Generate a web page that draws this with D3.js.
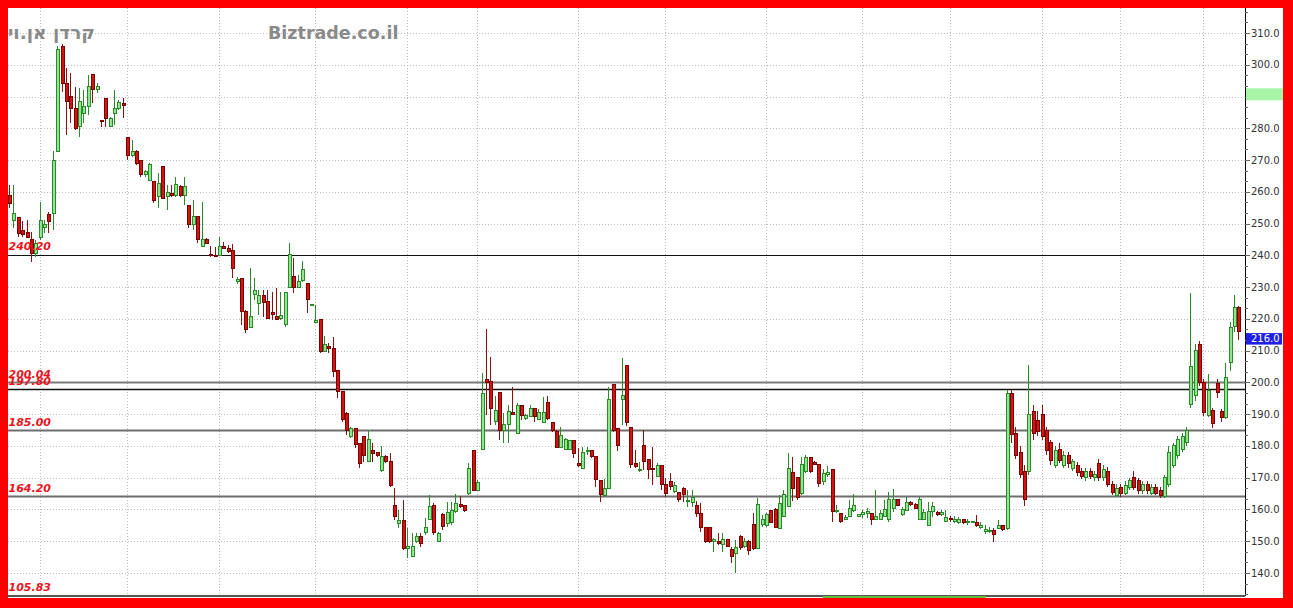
<!DOCTYPE html>
<html><head><meta charset="utf-8">
<script src="https://cdn.jsdelivr.net/npm/d3@7/dist/d3.min.js"></script>
<style>html,body{margin:0;padding:0;background:#ff0000;overflow:hidden}svg{display:block}</style>
</head><body>
<svg id="chart" width="1293" height="608"></svg>
<script>
// ---------------- data ----------------
const open = [
258.7,250.9,251.9,247.8,247.2,245.1,240.7,245.7,248.8,253.0,253.2,272.7,305.7,294.2,290.0,286.3,280.5,284.7,286.8,296.8,
292.3,282.3,289.4,280.5,284.7,286.3,287.9,277.1,271.3,272.7,270.0,265.3,263.7,263.2,258.5,267.9,258.5,259.5,259.0,261.6,
259.0,255.7,249.6,252.2,242.8,245.1,240.2,240.0,239.8,242.8,242.2,241.5,231.8,232.8,222.3,217.2,227.8,224.7,227.5,225.4,
222.0,220.9,220.2,218.1,229.9,233.3,229.9,232.0,231.0,224.2,219.0,219.9,209.7,211.3,210.7,203.7,197.1,190.3,182.9,185.5,
180.8,182.9,175.1,178.7,177.9,172.4,176.6,175.1,161.1,155.6,156.4,147.8,145.1,149.9,151.6,152.7,156.9,161.4,149.9,158.3,
155.5,156.0,159.3,161.7,161.1,164.9,178.7,166.1,178.9,201.0,200.3,187.6,196.8,184.8,186.6,190.4,184.0,192.6,188.5,189.4,
191.8,188.4,187.3,193.6,187.3,184.5,179.6,178.9,178.9,181.7,174.5,172.9,178.1,178.5,176.6,169.1,164.3,166.7,199.2,185.5,
194.7,205.3,185.9,174.5,172.2,180.0,175.8,172.9,170.3,174.0,168.0,168.8,165.6,165.3,166.6,162.4,162.1,161.1,158.8,154.4,
154.4,149.9,149.9,149.1,150.6,147.4,146.2,151.6,148.3,149.9,155.4,147.8,155.4,154.8,159.6,160.0,154.1,157.7,160.9,171.6,
170.1,164.9,171.9,176.4,174.9,174.3,168.7,170.9,172.6,159.3,158.6,156.7,157.7,159.8,157.9,158.3,158.6,158.8,156.9,156.7,
157.9,156.7,160.3,163.0,158.3,159.8,162.1,161.7,156.9,156.9,155.1,159.3,159.0,158.3,156.1,157.2,156.1,155.9,156.7,155.9,
156.0,155.8,154.4,153.0,153.0,153.5,154.1,155.1,154.1,196.5,184.0,178.0,172.0,172.0,191.0,188.0,190.0,185.0,181.0,174.0,
179.0,174.0,177.0,173.0,174.0,172.0,170.0,172.0,170.0,174.5,170.0,172.0,168.0,164.5,167.0,165.0,167.0,170.0,169.0,166.0,
168.0,165.0,167.0,166.0,164.0,168.0,174.0,177.0,179.0,181.0,193.0,196.0,212.0,200.0,189.7,191.3,199.8,190.7,188.8,206.4,
217.7,223.7];
const high = [
262.0,262.2,252.2,250.8,251.1,247.5,244.9,256.7,251.1,253.8,272.7,305.9,306.5,298.9,297.3,293.1,292.6,292.1,296.8,296.8,
294.2,282.6,289.4,283.6,292.1,288.9,289.4,277.3,276.3,273.2,270.0,266.9,269.0,263.2,265.8,267.9,262.2,262.2,264.8,262.2,
264.8,255.7,257.4,252.2,256.9,245.4,242.8,242.7,245.9,244.3,243.4,243.5,233.3,233.0,222.8,235.9,232.8,229.0,229.1,229.1,
228.6,229.6,228.6,228.6,243.8,239.1,233.8,238.3,231.0,224.8,224.4,219.9,214.6,212.3,214.4,203.7,197.1,190.8,186.0,185.5,
180.8,182.9,184.7,180.8,177.9,180.0,177.1,177.9,166.7,159.8,163.0,154.1,152.5,152.5,152.5,157.2,164.6,161.9,153.0,159.0,
162.5,162.5,164.9,164.3,161.4,174.7,178.7,169.2,202.9,216.7,207.9,195.7,196.8,190.3,192.9,198.6,193.4,192.6,190.2,192.9,
191.8,191.5,195.3,195.7,187.3,185.0,186.0,182.4,181.9,181.7,179.2,179.7,179.7,178.5,176.6,169.1,169.5,198.7,199.2,185.5,
207.6,205.3,185.9,178.7,175.0,185.0,175.8,179.8,174.7,174.0,169.8,171.4,168.8,165.3,167.2,166.1,166.1,162.8,161.9,154.4,
154.4,150.9,152.5,152.5,150.6,148.3,150.4,151.9,150.9,150.4,159.0,163.5,158.3,158.8,159.8,160.4,164.6,166.1,177.9,176.6,
170.1,176.6,177.1,176.4,175.4,174.3,172.6,173.7,172.6,161.4,158.6,158.3,163.0,164.9,158.6,159.8,160.4,158.8,166.1,159.8,
163.0,165.6,166.6,163.0,160.9,164.0,162.8,162.1,163.8,160.3,162.5,162.5,159.6,159.8,159.8,157.9,157.9,157.5,156.9,156.9,
156.4,158.3,155.9,155.1,154.4,154.1,156.7,155.1,197.5,197.5,186.0,180.0,174.0,205.5,193.0,191.0,193.0,186.0,182.0,180.0,
181.0,178.5,178.0,176.0,175.0,173.0,173.0,173.0,172.0,176.0,174.0,173.5,169.0,168.0,168.0,169.0,170.0,172.0,170.0,169.0,
169.0,168.0,168.0,167.0,171.0,180.0,181.0,183.0,184.0,186.0,228.0,212.0,213.0,201.0,202.7,192.0,201.0,191.5,206.0,219.0,
227.5,223.9];
const low = [
255.0,248.5,245.9,245.9,245.4,238.0,239.6,244.9,247.0,247.0,248.0,272.7,291.5,277.9,281.6,279.5,277.4,281.6,284.2,287.9,
291.0,280.5,280.5,280.5,281.0,285.8,283.1,270.0,270.9,268.5,264.8,264.8,263.7,256.4,254.8,258.0,254.3,258.5,258.5,258.5,
255.9,248.5,248.0,243.8,242.8,243.6,239.6,239.7,239.8,242.0,240.7,232.8,230.9,218.0,215.5,217.0,226.0,221.2,220.7,219.9,
219.7,219.5,219.7,217.6,229.9,228.3,229.6,231.7,222.0,223.9,218.8,209.2,209.7,209.4,201.8,195.0,187.6,183.5,182.4,179.2,
173.0,175.1,175.1,175.1,176.6,171.9,174.5,167.2,156.7,154.1,147.2,144.6,145.1,149.3,148.3,151.9,156.7,151.9,149.9,153.5,
154.5,155.0,158.8,160.6,159.3,164.6,165.9,166.1,178.7,189.7,186.6,186.6,181.9,181.0,181.0,189.7,184.0,188.2,188.2,189.2,
187.6,188.2,187.1,188.2,184.5,179.2,179.2,178.7,178.7,176.1,173.5,172.9,177.1,176.1,167.2,162.5,164.0,166.7,184.5,178.5,
186.6,186.3,173.0,173.0,171.9,172.4,169.5,167.7,170.3,166.1,163.8,166.1,165.1,162.5,162.4,160.9,160.9,157.7,153.0,149.3,
149.3,146.7,148.8,146.7,148.3,143.0,139.9,147.2,147.8,145.7,147.2,147.8,154.6,154.6,155.6,154.1,154.1,157.5,160.7,162.8,
163.0,164.6,171.6,171.4,174.0,167.2,167.7,170.3,155.9,159.0,155.6,156.7,157.5,159.3,157.7,157.2,157.2,155.1,156.7,156.7,
157.7,156.1,159.3,161.1,157.9,159.6,161.1,160.0,156.7,156.7,154.8,157.7,158.0,157.9,155.9,156.1,155.6,155.4,155.4,155.1,
155.6,154.4,153.7,152.3,152.5,149.9,153.7,153.3,153.5,181.0,176.0,170.0,161.0,171.0,182.0,183.0,182.0,177.0,174.0,173.0,
174.5,173.0,173.0,172.0,170.5,169.5,169.0,169.5,169.0,169.0,169.0,167.0,164.5,164.0,164.0,164.5,166.0,166.0,165.0,165.0,
165.0,164.5,164.5,163.5,163.5,167.0,173.0,176.0,178.0,180.0,192.0,194.0,199.0,189.5,189.0,185.6,195.0,187.5,188.5,203.5,
216.0,213.4];
const close = [
256.4,253.2,247.0,246.5,245.7,240.7,243.8,251.1,249.8,250.6,270.0,304.7,294.2,288.4,286.3,280.0,288.4,286.8,293.3,292.3,
293.1,282.0,283.1,283.1,286.3,288.1,287.1,271.3,272.7,269.0,265.3,266.4,268.5,257.4,262.7,258.0,259.7,259.0,262.2,259.0,
261.6,249.6,252.2,244.9,245.1,243.8,239.8,239.9,242.8,242.2,241.2,235.9,232.5,222.3,216.7,220.9,228.9,227.5,225.1,220.2,
221.5,219.9,221.2,228.3,240.4,229.9,231.7,235.7,226.2,224.6,219.5,209.7,211.8,210.7,203.4,197.1,188.2,185.0,185.5,180.3,
174.5,177.1,181.9,177.7,176.9,176.6,175.1,167.7,157.7,156.4,147.8,148.3,148.5,151.6,149.3,154.3,160.9,152.7,152.5,154.5,
159.0,159.8,161.9,160.9,159.6,172.9,166.1,168.4,196.6,200.1,191.8,191.3,185.0,186.6,190.8,189.9,192.6,189.7,189.7,191.8,
189.2,190.5,190.5,188.7,185.0,179.6,183.4,182.1,181.7,177.7,173.9,177.9,178.5,176.6,169.3,164.6,166.7,194.5,185.0,180.0,
196.0,187.3,174.3,173.5,172.6,175.1,172.6,172.7,173.7,168.0,164.9,167.2,167.7,163.0,164.6,162.9,163.8,158.6,154.4,149.9,
149.9,150.6,149.3,150.4,148.5,145.1,148.1,148.1,149.9,147.2,147.8,161.7,156.9,158.3,155.9,154.4,161.9,164.6,173.0,166.7,
163.8,174.3,176.4,171.9,174.3,168.2,171.2,171.6,159.3,159.8,156.1,157.5,160.3,161.4,158.3,159.0,159.3,156.7,157.9,158.6,
160.0,163.0,163.0,161.4,160.0,162.1,161.6,160.3,163.0,159.0,159.3,160.9,158.3,159.0,157.5,156.9,156.9,156.7,155.9,156.1,
156.1,154.8,155.1,153.7,153.5,152.0,155.1,153.7,196.5,183.5,177.0,171.0,163.0,190.0,184.0,184.5,183.0,178.5,175.5,178.5,
175.5,177.0,174.5,175.0,171.5,170.5,172.0,170.5,171.0,170.0,172.5,168.0,165.5,166.5,165.0,167.5,169.0,167.0,166.0,168.0,
166.0,167.0,165.0,164.5,170.0,178.0,180.0,182.0,183.0,185.0,205.0,210.0,200.0,190.5,197.6,187.2,196.7,188.8,201.5,217.4,
223.7,216.0];
// candle number (1-based) at which each month's gridline sits
const monthStarts = [8, 28, 49, 71, 92, 108, 131, 151, 174, 196, 216, 237, 255, 274];
// horizontal levels drawn on the chart
const levels = [240.20, 200.04, 197.80, 185.00, 164.20, 105.83];
const yTickValues = [140, 150, 160, 170, 180, 190, 200, 210, 220, 230, 240, 250, 260, 270, 280, 290, 300, 310];
const lastPrice = 216.0;
const axisBand = [288.8, 292.6];
const siteTitle = "Biztrade.co.il";
const stockName = "קרדן אן.וי";

// ---------------- layout ----------------
const W = 1293, H = 608;
const panel = {l: 8, t: 8, r: 1283, b: 598};
const plot = {l: 8, t: 8, r: 1245, b: 595};
const svg = d3.select("#chart");
const N = open.length;

const y = d3.scaleLinear().domain([140, 310]).range([573, 33]);
const x = d3.scaleLinear().domain([1, N]).range([9, 1238.4]);

svg.append("rect").attr("x", 0).attr("y", 0).attr("width", W).attr("height", H).attr("fill", "#ff0000");
svg.append("rect").attr("x", panel.l).attr("y", panel.t).attr("width", panel.r - panel.l).attr("height", panel.b - panel.t).attr("fill", "#ffffff");

svg.append("defs").append("clipPath").attr("id", "pc")
  .append("rect").attr("x", plot.l).attr("y", plot.t).attr("width", plot.r - plot.l).attr("height", plot.b - plot.t);

// grid
const grid = svg.append("g").attr("clip-path", "url(#pc)");
grid.selectAll("line.h").data(yTickValues).join("line")
  .attr("x1", plot.l).attr("x2", plot.r)
  .attr("y1", d => Math.round(y(d)) + 0.5).attr("y2", d => Math.round(y(d)) + 0.5)
  .attr("stroke", "#bdbdbd").attr("stroke-width", 1).attr("stroke-dasharray", "1,2");
grid.selectAll("line.v").data(monthStarts).join("line")
  .attr("y1", plot.t).attr("y2", plot.b)
  .attr("x1", d => Math.round(x(d)) + 0.5).attr("x2", d => Math.round(x(d)) + 0.5)
  .attr("stroke", "#bdbdbd").attr("stroke-width", 1).attr("stroke-dasharray", "1,2");

// level lines
const levelStroke = ["#111", "#7a7a7a", "#111", "#6e6e6e", "#6e6e6e", "#6e6e6e"];
const levelWidth = [1, 2, 1.3, 2, 2, 2];
const lv = svg.append("g").attr("clip-path", "url(#pc)");
lv.selectAll("line").data(levels).join("line")
  .attr("x1", plot.l).attr("x2", plot.r)
  .attr("y1", d => Math.round(y(d)) + 0.5).attr("y2", d => Math.round(y(d)) + 0.5)
  .attr("stroke", (d, i) => levelStroke[i]).attr("stroke-width", (d, i) => levelWidth[i]);

// candles
const idx = d3.range(N);
const cg = svg.append("g").attr("clip-path", "url(#pc)").attr("shape-rendering", "crispEdges");
const up = i => close[i] >= open[i];
cg.selectAll("line.w").data(idx).join("line")
  .attr("x1", i => Math.round(x(i + 1)) + 0.5).attr("x2", i => Math.round(x(i + 1)) + 0.5)
  .attr("y1", i => y(Math.max(high[i], open[i], close[i]))).attr("y2", i => y(Math.min(low[i], open[i], close[i])))
  .attr("stroke", i => up(i) ? "#2a8a2a" : "#8b1010").attr("stroke-width", 1);
cg.selectAll("rect.b").data(idx).join("rect")
  .attr("x", i => Math.round(x(i + 1)) - 1)
  .attr("width", 3)
  .attr("y", i => y(Math.max(open[i], close[i])))
  .attr("height", i => Math.max(1, Math.abs(y(open[i]) - y(close[i]))))
  .attr("fill", i => up(i) ? "#8fe68f" : "#d01414")
  .attr("stroke", i => up(i) ? "#2a8a2a" : "#7d0000").attr("stroke-width", 1);

// level labels
svg.selectAll("text.lvl").data(levels).join("text")
  .attr("x", 8.5)
  .attr("y", d => Math.min(y(d) - 4.5, 591))
  .attr("fill", "#e8141e").attr("font-family", "DejaVu Sans").attr("font-size", 11)
  .attr("font-weight", "bold").attr("font-style", "italic")
  .text(d => d3.format(".2f")(d));

// bottom border of plot
svg.append("line").attr("x1", plot.l).attr("x2", plot.r).attr("y1", 596).attr("y2", 596)
  .attr("stroke", "#555").attr("stroke-width", 2);

// y axis
svg.append("line").attr("x1", plot.r + 0.5).attr("x2", plot.r + 0.5).attr("y1", plot.t).attr("y2", plot.b + 1)
  .attr("stroke", "#000").attr("stroke-width", 1);
const minor = d3.range(130, 321, 10 / 3).filter(v => y(v) > plot.t && y(v) < plot.b);
svg.selectAll("line.mt").data(minor).join("line")
  .attr("x1", plot.r).attr("x2", plot.r + 3)
  .attr("y1", d => Math.round(y(d)) + 0.5).attr("y2", d => Math.round(y(d)) + 0.5)
  .attr("stroke", "#666").attr("stroke-width", 1);
svg.selectAll("line.Mt").data(yTickValues).join("line")
  .attr("x1", plot.r).attr("x2", plot.r + 5)
  .attr("y1", d => Math.round(y(d)) + 0.5).attr("y2", d => Math.round(y(d)) + 0.5)
  .attr("stroke", "#666").attr("stroke-width", 1);
svg.selectAll("text.yl").data(yTickValues).join("text")
  .attr("x", 1251).attr("y", d => y(d)).attr("dy", "0.35em")
  .attr("fill", "#333").attr("font-family", "DejaVu Sans").attr("font-size", 10)
  .text(d => d3.format(".1f")(d));
// green band on the axis (covers the label beneath it)
svg.append("rect").attr("x", plot.r + 1).attr("width", panel.r - plot.r - 1)
  .attr("y", y(axisBand[1])).attr("height", y(axisBand[0]) - y(axisBand[1])).attr("fill", "#a8f5a8");

// last price marker
const lpY = y(lastPrice) + 1.5;
svg.append("rect").attr("x", plot.r + 1).attr("y", lpY).attr("width", panel.r - plot.r - 2).attr("height", 11.5).attr("fill", "#1f1fe6");
svg.append("text").attr("x", 1251).attr("y", lpY + 5.8).attr("dy", "0.35em")
  .attr("fill", "#ffffff").attr("font-family", "DejaVu Sans").attr("font-size", 10)
  .text(d3.format(".1f")(lastPrice));

// bottom green strip
svg.append("rect").attr("x", 823).attr("y", 596).attr("width", 163).attr("height", 2).attr("fill", "#5fbf3f");

// titles
svg.append("text").attr("x", 268).attr("y", 39).attr("fill", "#8a8a8a")
  .attr("font-family", "DejaVu Sans").attr("font-size", 17.5).attr("font-weight", "bold").text(siteTitle);
svg.append("text").attr("x", 95).attr("y", 39).attr("text-anchor", "end").attr("fill", "#8a8a8a")
  .attr("font-family", "DejaVu Sans").attr("font-size", 18.5).attr("font-weight", "bold").text(stockName);

// red frame on top
const frame = svg.append("g").attr("fill", "#ff0000");
frame.append("rect").attr("x", 0).attr("y", 0).attr("width", W).attr("height", panel.t);
frame.append("rect").attr("x", 0).attr("y", panel.b).attr("width", W).attr("height", H - panel.b);
frame.append("rect").attr("x", 0).attr("y", 0).attr("width", panel.l).attr("height", H);
frame.append("rect").attr("x", panel.r).attr("y", 0).attr("width", W - panel.r).attr("height", H);
</script>
</body></html>
